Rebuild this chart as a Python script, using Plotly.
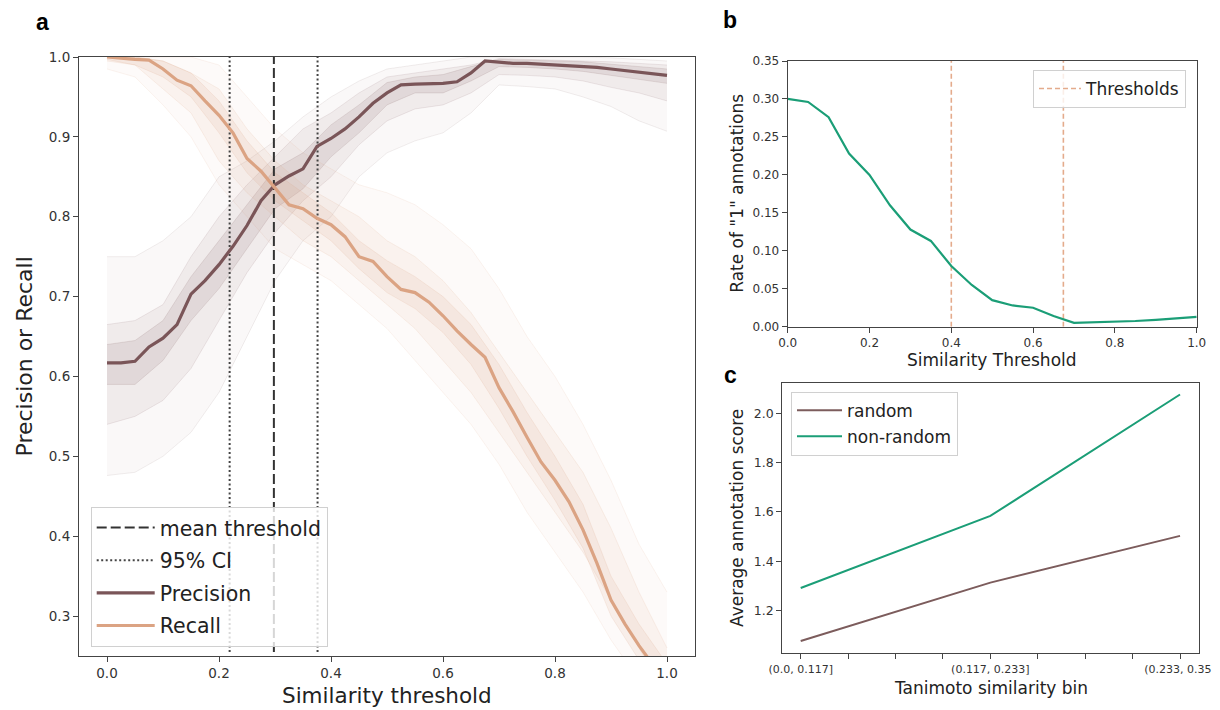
import plotly.graph_objects as go

# ---------------- data: panel a ----------------
thr_main = [round(i * 0.025, 3) for i in range(41)]
precision_mean = [0.617, 0.617, 0.619, 0.637, 0.648, 0.665, 0.703, 0.720, 0.740, 0.763,
                  0.789, 0.820, 0.840, 0.851, 0.860, 0.888, 0.898, 0.910, 0.925, 0.942,
                  0.955, 0.965, 0.966, 0.967, 0.967, 0.969, 0.980, 0.995, 0.993, 0.992,
                  0.992, 0.991, 0.991, 0.990, 0.989, 0.987, 0.985, 0.983, 0.981, 0.979, 0.977]
recall_mean = [1.000, 0.998, 0.997, 0.996, 0.985, 0.971, 0.964, 0.945, 0.927, 0.905,
               0.873, 0.857, 0.836, 0.815, 0.810, 0.798, 0.790, 0.775, 0.750, 0.744,
               0.725, 0.709, 0.705, 0.693, 0.676, 0.657, 0.640, 0.624, 0.586, 0.556,
               0.524, 0.493, 0.470, 0.443, 0.408, 0.366, 0.320, 0.290, 0.263, 0.238, 0.215]

# bootstrap spread (read as envelopes of the faint bootstrap curves)
thr_band = [round(i * 0.05, 2) for i in range(21)]
prec_outer_lo = [0.476, 0.480, 0.500, 0.530, 0.580, 0.650, 0.720, 0.770, 0.800, 0.850, 0.880,
                 0.895, 0.905, 0.930, 0.965, 0.963, 0.960, 0.950, 0.938, 0.920, 0.907]
prec_inner_lo = [0.540, 0.550, 0.570, 0.610, 0.670, 0.730, 0.780, 0.820, 0.850, 0.890, 0.920,
                 0.935, 0.940, 0.955, 0.978, 0.977, 0.975, 0.970, 0.962, 0.955, 0.945]
prec_core_lo = [0.590, 0.590, 0.620, 0.670, 0.710, 0.760, 0.810, 0.835, 0.875, 0.905, 0.940,
                0.955, 0.955, 0.970, 0.988, 0.987, 0.985, 0.982, 0.977, 0.972, 0.967]
prec_core_hi = [0.640, 0.645, 0.670, 0.725, 0.770, 0.815, 0.860, 0.880, 0.915, 0.940, 0.968,
                0.975, 0.978, 0.988, 0.997, 0.996, 0.995, 0.994, 0.991, 0.988, 0.985]
prec_inner_hi = [0.665, 0.670, 0.690, 0.750, 0.800, 0.840, 0.875, 0.910, 0.930, 0.955, 0.975,
                 0.980, 0.985, 0.990, 0.998, 0.997, 0.996, 0.995, 0.994, 0.992, 0.990]
prec_outer_hi = [0.750, 0.750, 0.770, 0.800, 0.850, 0.870, 0.895, 0.925, 0.950, 0.970, 0.985,
                 0.990, 0.995, 1.000, 1.000, 1.000, 1.000, 1.000, 0.999, 0.997, 0.995]
rec_outer_lo = [0.985, 0.975, 0.940, 0.900, 0.840, 0.800, 0.760, 0.740, 0.720, 0.690, 0.660,
                0.620, 0.580, 0.540, 0.490, 0.430, 0.380, 0.330, 0.270, 0.220, 0.170]
rec_inner_lo = [0.995, 0.990, 0.960, 0.930, 0.870, 0.830, 0.800, 0.770, 0.750, 0.720, 0.690,
                0.660, 0.620, 0.580, 0.530, 0.480, 0.430, 0.380, 0.320, 0.260, 0.200]
rec_core_lo = [0.997, 0.990, 0.975, 0.950, 0.905, 0.855, 0.820, 0.795, 0.770, 0.735, 0.705,
               0.685, 0.655, 0.615, 0.560, 0.500, 0.445, 0.385, 0.300, 0.245, 0.200]
rec_core_hi = [1.000, 1.000, 0.995, 0.980, 0.945, 0.895, 0.855, 0.830, 0.805, 0.770, 0.745,
               0.725, 0.700, 0.665, 0.615, 0.555, 0.500, 0.440, 0.350, 0.290, 0.240]
rec_inner_hi = [1.000, 1.000, 0.995, 0.980, 0.960, 0.910, 0.870, 0.840, 0.820, 0.800, 0.770,
                0.750, 0.720, 0.680, 0.630, 0.580, 0.530, 0.480, 0.410, 0.330, 0.260]
rec_outer_hi = [1.000, 1.000, 1.000, 1.000, 0.990, 0.950, 0.910, 0.880, 0.860, 0.840, 0.830,
                0.815, 0.790, 0.760, 0.710, 0.650, 0.600, 0.540, 0.470, 0.390, 0.330]

mean_threshold = 0.298
ci_thresholds = [0.219, 0.376]

# ---------------- data: panel b ----------------
thr_b = [round(i * 0.05, 2) for i in range(21)]
rate_one = [0.300, 0.296, 0.276, 0.228, 0.200, 0.160, 0.128, 0.113, 0.080, 0.055, 0.035,
            0.028, 0.025, 0.014, 0.005, 0.0055, 0.0065, 0.0075, 0.009, 0.011, 0.013]
thresholds_b = [0.40, 0.674]

# ---------------- data: panel c ----------------
bins = ["(0.0, 0.117]", "(0.117, 0.233]", "(0.233, 0.35]"]
score_random = [1.076, 1.313, 1.503]
score_nonrandom = [1.291, 1.584, 2.077]

# ---------------- style ----------------
PREC = "#7a5558"
REC = "#dba383"
GREEN = "#1b9e77"
RAND = "#7c5c5c"
THR = "#e4ab8c"
FONT = "DejaVu Sans"
OFF = 8            # page body margin
W, H = 1212, 702


def rgba(hexc, a):
    hexc = hexc.lstrip("#")
    r, g, b = int(hexc[0:2], 16), int(hexc[2:4], 16), int(hexc[4:6], 16)
    return f"rgba({r},{g},{b},{a})"


fig = go.Figure()


def band(x, lo, hi, color, alpha, edge_alpha):
    fig.add_trace(go.Scatter(x=x, y=lo, mode="lines",
                             line=dict(width=1, color=rgba(color, edge_alpha)),
                             showlegend=False, hoverinfo="skip", xaxis="x", yaxis="y"))
    fig.add_trace(go.Scatter(x=x, y=hi, mode="lines", fill="tonexty",
                             fillcolor=rgba(color, alpha),
                             line=dict(width=1, color=rgba(color, edge_alpha)),
                             showlegend=False, hoverinfo="skip", xaxis="x", yaxis="y"))


# haze
band(thr_band, prec_outer_lo, prec_outer_hi, PREC, 0.04, 0.10)
band(thr_band, prec_inner_lo, prec_inner_hi, PREC, 0.08, 0.12)
band(thr_band, prec_core_lo, prec_core_hi, PREC, 0.12, 0.14)
band(thr_band, rec_outer_lo, rec_outer_hi, REC, 0.05, 0.12)
band(thr_band, rec_inner_lo, rec_inner_hi, REC, 0.09, 0.14)
band(thr_band, rec_core_lo, rec_core_hi, REC, 0.13, 0.16)

# vertical threshold lines
fig.add_trace(go.Scatter(x=[mean_threshold, mean_threshold], y=[0.255, 1.0], mode="lines",
                         line=dict(color="#333333", width=2, dash="10px,4px"),
                         name="mean threshold", legendgroup="g1", hoverinfo="skip",
                         xaxis="x", yaxis="y"))
for i, c in enumerate(ci_thresholds):
    fig.add_trace(go.Scatter(x=[c, c], y=[0.255, 1.0], mode="lines",
                             line=dict(color="#444444", width=2, dash="2px,2.5px"),
                             name="95% CI", legendgroup="g2", showlegend=(i == 0),
                             hoverinfo="skip", xaxis="x", yaxis="y"))

fig.add_trace(go.Scatter(x=thr_main, y=precision_mean, mode="lines",
                         line=dict(color=PREC, width=3.2), name="Precision",
                         legendgroup="g3", xaxis="x", yaxis="y"))
fig.add_trace(go.Scatter(x=thr_main, y=recall_mean, mode="lines",
                         line=dict(color=REC, width=3.2), name="Recall",
                         legendgroup="g4", xaxis="x", yaxis="y"))

# panel b
for i, t in enumerate(thresholds_b):
    fig.add_trace(go.Scatter(x=[t, t], y=[0, 0.35], mode="lines",
                             line=dict(color=THR, width=1.6, dash="5px,3px"),
                             name="Thresholds", showlegend=(i == 0), legend="legend2",
                             hoverinfo="skip", xaxis="x2", yaxis="y2"))
fig.add_trace(go.Scatter(x=thr_b, y=rate_one, mode="lines",
                         line=dict(color=GREEN, width=2.2), showlegend=False,
                         xaxis="x2", yaxis="y2"))

# panel c
xc = list(range(len(bins)))
fig.add_trace(go.Scatter(x=xc, y=score_random, mode="lines",
                         line=dict(color=RAND, width=2), name="random",
                         legend="legend3", legendgroup="c1", xaxis="x3", yaxis="y3"))
fig.add_trace(go.Scatter(x=xc, y=score_nonrandom, mode="lines",
                         line=dict(color=GREEN, width=2), name="non-random",
                         legend="legend3", legendgroup="c2", xaxis="x3", yaxis="y3"))

tickvals_c = [i * 0.25 for i in range(9)]
ticktext_c = [bins[int(v)] if v == int(v) else "" for v in tickvals_c]


def px_x(p):
    return (p - OFF) / W


def px_y(p):
    return (H - (p - OFF)) / H


axis_common = dict(showline=True, linecolor="#444444", linewidth=1.1, mirror=True,
                   ticks="outside", ticklen=5, tickwidth=1, tickcolor="#444444",
                   showgrid=False, zeroline=False, automargin=False)

fig.update_layout(
    width=W, height=H, autosize=False,
    margin=dict(l=0, r=0, t=0, b=0),
    paper_bgcolor="white", plot_bgcolor="white",
    font=dict(family=FONT, color="#333333"),
    xaxis=dict(domain=[px_x(79), px_x(695)], anchor="y", range=[-0.05, 1.05],
               tickvals=[0, 0.2, 0.4, 0.6, 0.8, 1.0], tickformat=".1f",
               tickfont=dict(size=13.5, family=FONT, color="#333333"), **axis_common),
    yaxis=dict(domain=[px_y(656), px_y(57)], anchor="x", range=[0.25, 1.0],
               tickvals=[0.3, 0.4, 0.5, 0.6, 0.7, 0.8, 0.9, 1.0], tickformat=".1f",
               tickfont=dict(size=13.5, family=FONT, color="#333333"), **axis_common),
    xaxis2=dict(domain=[px_x(787.7), px_x(1196.7)], anchor="y2", range=[0, 1],
                tickvals=[0, 0.2, 0.4, 0.6, 0.8, 1.0], tickformat=".1f",
                tickfont=dict(size=12, family=FONT, color="#333333"), **axis_common),
    yaxis2=dict(domain=[px_y(326.7), px_y(61)], anchor="x2", range=[0, 0.35],
                tickvals=[0, 0.05, 0.1, 0.15, 0.2, 0.25, 0.3, 0.35], tickformat=".2f",
                tickfont=dict(size=12, family=FONT, color="#333333"), **axis_common),
    xaxis3=dict(domain=[px_x(782.3), px_x(1199)], anchor="y3", range=[-0.097, 2.1],
                tickvals=tickvals_c, ticktext=ticktext_c,
                tickfont=dict(size=11, family=FONT, color="#333333"), **axis_common),
    yaxis3=dict(domain=[px_y(653.3), px_y(382.7)], anchor="x3", range=[1.026, 2.125],
                tickvals=[1.2, 1.4, 1.6, 1.8, 2.0], tickformat=".1f",
                tickfont=dict(size=12.5, family=FONT, color="#333333"), **axis_common),
    legend=dict(x=px_x(90.7), y=px_y(506.7), xanchor="left", yanchor="top",
                bgcolor="rgba(255,255,255,0.8)", bordercolor="#d0d0d0", borderwidth=1,
                font=dict(size=20.5, family=FONT, color="#222222"),
                tracegroupgap=3, traceorder="grouped", itemwidth=58),
    legend2=dict(x=px_x(1033), y=px_y(70), xanchor="left", yanchor="top",
                 bgcolor="rgba(255,255,255,0.8)", bordercolor="#d0d0d0", borderwidth=1,
                 font=dict(size=17, family=FONT, color="#222222"), itemwidth=42),
    legend3=dict(x=px_x(791), y=px_y(391.7), xanchor="left", yanchor="top",
                 bgcolor="rgba(255,255,255,0.8)", bordercolor="#d0d0d0", borderwidth=1,
                 font=dict(size=17, family=FONT, color="#222222"),
                 tracegroupgap=1, traceorder="grouped", itemwidth=45),
)

annots = [
    # axis titles
    dict(text="Similarity threshold", x=px_x(387), y=px_y(695), size=21.5, angle=0),
    dict(text="Precision or Recall", x=px_x(24), y=px_y(356.5), size=22, angle=-90),
    dict(text="Similarity Threshold", x=px_x(992.2), y=px_y(360), size=17, angle=0),
    dict(text='Rate of "1" annotations', x=px_x(737), y=px_y(193.8), size=17, angle=-90),
    dict(text="Tanimoto similarity bin", x=px_x(990.7), y=px_y(688), size=17, angle=0),
    dict(text="Average annotation score", x=px_x(737), y=px_y(518), size=17, angle=-90),
]
for a in annots:
    fig.add_annotation(text=a["text"], x=a["x"], y=a["y"], xref="paper", yref="paper",
                       xanchor="center", yanchor="middle", showarrow=False,
                       textangle=a["angle"],
                       font=dict(size=a["size"], family=FONT, color="#222222"))

for lab, x, y in [("a", 42.5, 22), ("b", 730, 20), ("c", 730, 375)]:
    fig.add_annotation(text=f"<b>{lab}</b>", x=px_x(x), y=px_y(y), xref="paper", yref="paper",
                       xanchor="center", yanchor="middle", showarrow=False,
                       font=dict(size=23, family="Liberation Sans", color="black"))

fig.write_html("out.html")
